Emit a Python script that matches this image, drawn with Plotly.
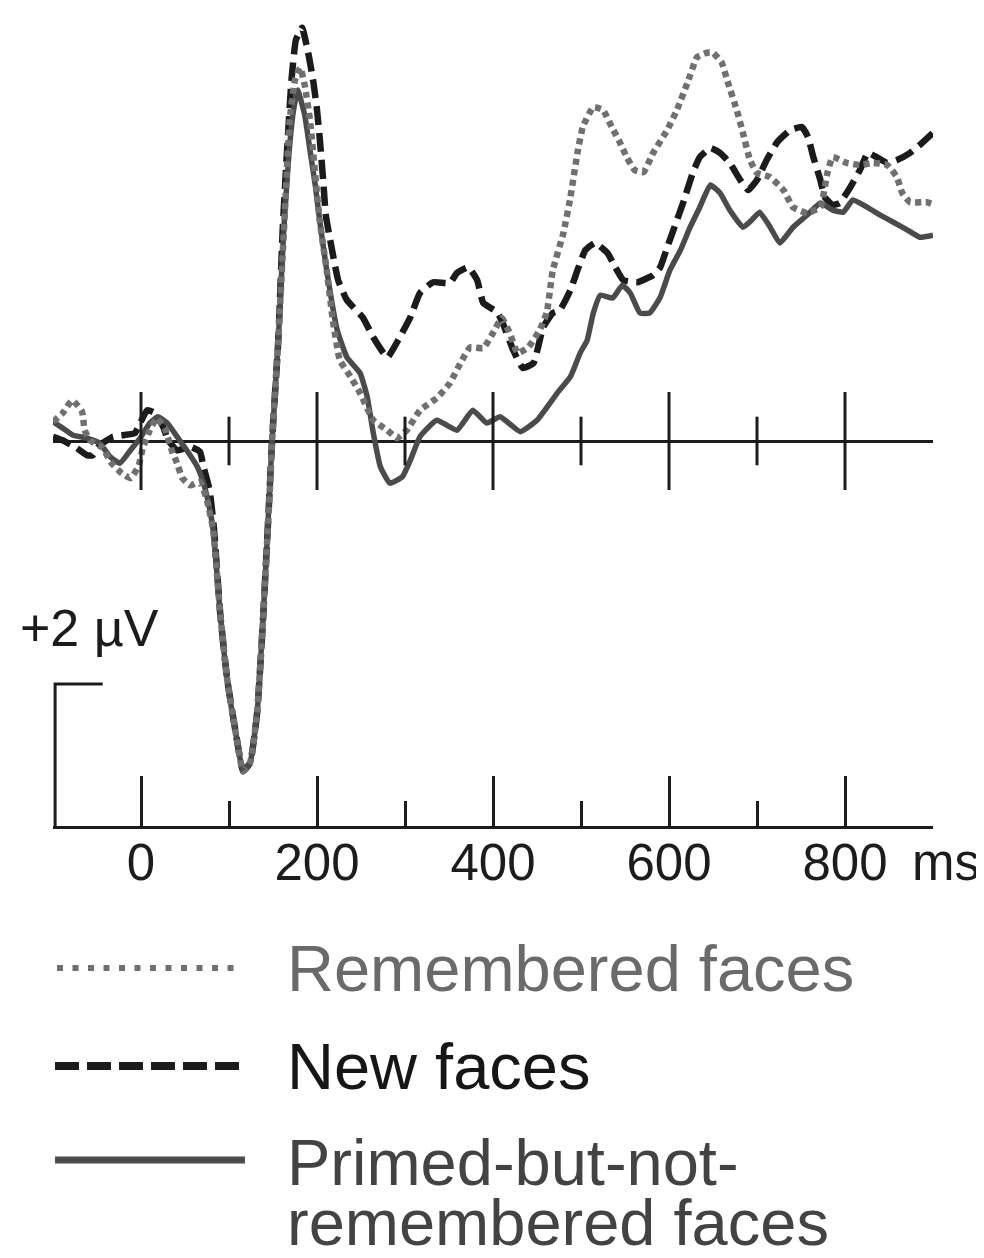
import plotly.graph_objects as go

# ---------------- data (time in ms, amplitude in microvolts) ----------------
t_rem = [-100, -89, -78, -67, -64, -58, -43, -35, -22, -12, -3, 2, 10, 18, 27, 35, 41, 47, 56, 67,
         75, 82, 90, 98, 109, 116, 124, 132, 138, 143, 147, 149, 156, 163, 169, 175, 181, 186, 192, 198,
         203, 211, 218, 226, 238, 249, 264, 280, 291, 302, 317, 336, 351, 363, 374, 389, 400, 410, 419, 428,
         440, 453, 461, 468, 480, 488, 496, 502, 514, 525, 535, 544, 552, 561, 571, 582, 598, 609, 621, 632,
         643, 650, 660, 667, 677, 684, 692, 700, 715, 730, 741, 757, 772, 780, 786, 802, 817, 832, 848, 859,
         865, 874, 893, 900]
v_rem = [0.27, 0.39, 0.57, 0.41, 0.15, 0.01, -0.10, -0.29, -0.45, -0.52, -0.36, -0.10, 0.15, 0.32, 0.18, -0.13, -0.31, -0.52, -0.62, -0.57,
         -0.83, -1.24, -2.41, -3.34, -4.18, -4.62, -4.50, -3.80, -2.64, -1.48, -0.55, 0.01, 1.41, 3.09, 4.49, 5.05, 5.22, 4.98, 4.49, 3.72,
         3.09, 2.39, 1.69, 1.13, 0.90, 0.67, 0.29, 0.15, 0.04, 0.15, 0.43, 0.60, 0.81, 1.09, 1.31, 1.30, 1.51, 1.72, 1.51, 1.23,
         1.31, 1.55, 1.79, 2.39, 2.91, 3.41, 4.03, 4.39, 4.67, 4.63, 4.39, 4.18, 3.97, 3.79, 3.76, 4.03, 4.35, 4.63, 5.01, 5.37,
         5.43, 5.43, 5.29, 5.01, 4.63, 4.31, 3.93, 3.75, 3.69, 3.51, 3.27, 3.19, 3.27, 3.75, 3.97, 3.89, 3.86, 3.89, 3.86, 3.69,
         3.47, 3.34, 3.34, 3.31]

t_new = [-100, -89, -73, -61, -55, -47, -32, -21, -7, -1, 7, 16, 25, 31, 41, 56, 67, 71, 78, 83,
         90, 98, 109, 116, 124, 132, 138, 143, 149, 156, 161, 166, 171, 176, 183, 190, 196, 200, 203, 207,
         210, 215, 224, 234, 252, 264, 280, 294, 306, 317, 332, 351, 359, 372, 382, 389, 405, 411, 423, 434,
         446, 457, 468, 476, 488, 496, 505, 516, 530, 539, 548, 564, 582, 590, 598, 605, 616, 627, 635, 647,
         658, 669, 681, 690, 700, 711, 723, 738, 751, 758, 764, 772, 777, 786, 794, 806, 817, 826, 836, 848,
         859, 874, 885, 900]
v_new = [0.06, 0.01, -0.10, -0.20, -0.20, -0.06, 0.06, 0.08, 0.11, 0.25, 0.43, 0.39, 0.20, 0.01, -0.13, -0.08, -0.15, -0.36, -0.69, -1.24,
         -2.41, -3.34, -4.18, -4.62, -4.50, -3.80, -2.64, -1.48, 0.01, 1.41, 2.95, 4.07, 5.05, 5.61, 5.78, 5.43, 5.01, 4.63, 4.25, 3.65,
         3.16, 2.81, 2.25, 1.97, 1.73, 1.45, 1.17, 1.45, 1.73, 2.07, 2.22, 2.21, 2.35, 2.43, 2.25, 1.93, 1.80, 1.65, 1.27, 1.02,
         1.09, 1.59, 1.79, 1.83, 2.11, 2.39, 2.67, 2.77, 2.63, 2.43, 2.25, 2.22, 2.32, 2.43, 2.71, 2.95, 3.33, 3.75, 3.97, 4.10,
         4.03, 3.89, 3.65, 3.51, 3.65, 3.93, 4.18, 4.35, 4.39, 4.25, 3.97, 3.65, 3.41, 3.30, 3.33, 3.55, 3.79, 4.03, 3.97, 3.89,
         3.93, 4.03, 4.14, 4.31]

t_pri = [-100, -89, -77, -61, -47, -35, -24, -12, -1, 10, 19, 30, 41, 52, 64, 71, 76, 82, 90, 98,
         109, 116, 124, 132, 138, 143, 149, 156, 162, 168, 173, 178, 186, 192, 198, 203, 211, 223, 234, 249,
         257, 264, 272, 283, 297, 306, 317, 336, 359, 377, 393, 408, 431, 450, 473, 488, 499, 507, 514, 522,
         536, 547, 556, 567, 578, 590, 601, 613, 624, 635, 647, 658, 669, 684, 694, 703, 715, 726, 741, 757,
         772, 786, 798, 809, 825, 840, 855, 871, 885, 900]
v_pri = [0.27, 0.18, 0.08, 0.04, -0.03, -0.22, -0.31, -0.13, 0.04, 0.25, 0.34, 0.25, 0.06, -0.13, -0.36, -0.59, -0.83, -1.24, -2.41, -3.34,
         -4.18, -4.62, -4.50, -3.80, -2.64, -1.48, 0.01, 1.41, 2.9, 4.0, 4.6, 4.91, 4.56, 4.07, 3.58, 3.09, 2.39, 1.55, 1.17, 0.95,
         0.62, 0.11, -0.36, -0.59, -0.50, -0.27, 0.06, 0.29, 0.15, 0.43, 0.25, 0.34, 0.13, 0.29, 0.67, 0.90, 1.23, 1.41, 1.79, 2.04,
         2.00, 2.18, 2.07, 1.79, 1.79, 2.01, 2.39, 2.67, 2.99, 3.27, 3.58, 3.47, 3.23, 2.99, 3.09, 3.20, 2.99, 2.77, 2.99, 3.16,
         3.33, 3.23, 3.20, 3.37, 3.27, 3.16, 3.06, 2.95, 2.85, 2.88]

major_ticks = [0, 200, 400, 600, 800]
minor_ticks = [100, 300, 500, 700]
tick_labels = ["0", "200", "400", "600", "800"]
series_names = ["Remembered faces", "New faces", "Primed-but-not-", "remembered faces"]
scale_label = "+2 \u00b5V"
unit_label = "ms"

# ---------------- styling / page geometry ----------------
PAGE_W, PAGE_H = 984, 1258
OFF = 8                      # default body margin of the html page
W, H = PAGE_W - OFF, PAGE_H - OFF
FONT = "Liberation Sans, Arial, Helvetica, sans-serif"
C_REM = "#707070"
C_NEW = "#1b1b1b"
C_PRI = "#4b4b4b"
C_AX = "#1c1c1c"


def fx(p):   # page pixel x -> paper fraction
    return (p - OFF) / W


def fy(p):   # page pixel y -> paper fraction
    return 1 - (p - OFF) / H


X0_PX, X1_PX = 53, 933           # x domain in page pixels (-100 .. 900 ms)
ZERO_PX, PX_PER_UV = 441, 71.5   # zero line row (page px) and scale
AXIS_PX = 827                    # bottom time axis row (page px)
y_top = (ZERO_PX - OFF) / PX_PER_UV
y_bot = (ZERO_PX - OFF - H) / PX_PER_UV
axis_v = (ZERO_PX - AXIS_PX) / PX_PER_UV

fig = go.Figure()
fig.add_trace(go.Scatter(x=t_new, y=v_new, mode="lines", name=series_names[1],
                         line=dict(color=C_NEW, width=6.5, dash="19px,8px", shape="spline", smoothing=0.4)))
fig.add_trace(go.Scatter(x=t_pri, y=v_pri, mode="lines", name=series_names[2] + series_names[3],
                         line=dict(color=C_PRI, width=5.5, shape="spline", smoothing=0.4)))
fig.add_trace(go.Scatter(x=t_rem, y=v_rem, mode="lines", name=series_names[0],
                         line=dict(color=C_REM, width=6.5, dash="6px,4.5px", shape="spline", smoothing=0.4)))

shapes = []
for t in major_ticks:
    shapes.append(dict(type="line", xref="x", yref="y", x0=t, x1=t, y0=-0.685, y1=0.685,
                       line=dict(color=C_AX, width=3)))
for t in minor_ticks:
    shapes.append(dict(type="line", xref="x", yref="y", x0=t, x1=t, y0=-0.34, y1=0.34,
                       line=dict(color=C_AX, width=3)))
# calibration bar (2 µV)
shapes.append(dict(type="path", xref="x", yref="y",
                   path=f"M -97.6,{axis_v} L -97.6,{axis_v + 2} L -43.5,{axis_v + 2}",
                   line=dict(color=C_AX, width=3)))

# legend samples
shapes.append(dict(type="line", xref="paper", yref="paper", x0=fx(57), x1=fx(240), y0=fy(968), y1=fy(968),
                   line=dict(color=C_REM, width=6, dash="6px,9.5px")))
shapes.append(dict(type="line", xref="paper", yref="paper", x0=fx(55), x1=fx(240), y0=fy(1066), y1=fy(1066),
                   line=dict(color=C_NEW, width=8, dash="24px,8px")))
shapes.append(dict(type="line", xref="paper", yref="paper", x0=fx(55), x1=fx(245), y0=fy(1160), y1=fy(1160),
                   line=dict(color=C_PRI, width=7)))

annotations = [
    dict(text=scale_label, x=-59, y=-2.62, xref="x", yref="y", showarrow=False,
         font=dict(family=FONT, size=52, color=C_AX), xanchor="center", yanchor="middle"),
    dict(text=unit_label, x=(910 - 141) / 0.88, y=fy(862), xref="x", yref="paper", showarrow=False,
         font=dict(family=FONT, size=51, color=C_AX), xanchor="left", yanchor="middle"),
    dict(text=series_names[0], x=fx(285), y=fy(968), xref="paper", yref="paper", showarrow=False,
         font=dict(family=FONT, size=65, color="#6a6a6a"), xanchor="left", yanchor="middle"),
    dict(text=series_names[1], x=fx(285), y=fy(1066), xref="paper", yref="paper", showarrow=False,
         font=dict(family=FONT, size=65, color="#161616"), xanchor="left", yanchor="middle"),
    dict(text=series_names[2], x=fx(285), y=fy(1162), xref="paper", yref="paper", showarrow=False,
         font=dict(family=FONT, size=65, color="#434343"), xanchor="left", yanchor="middle"),
    dict(text=series_names[3], x=fx(285), y=fy(1222), xref="paper", yref="paper", showarrow=False,
         font=dict(family=FONT, size=65, color="#434343"), xanchor="left", yanchor="middle"),
]

fig.update_layout(
    width=W, height=H,
    margin=dict(l=0, r=0, t=0, b=0),
    paper_bgcolor="white", plot_bgcolor="white",
    showlegend=False,
    shapes=shapes, annotations=annotations,
    xaxis=dict(domain=[fx(X0_PX), fx(X1_PX)], range=[-100, 900],
               anchor="free", position=fy(AXIS_PX),
               showline=True, linewidth=3, linecolor=C_AX,
               showgrid=False, zeroline=False,
               ticks="inside", ticklen=50, tickwidth=3, tickcolor=C_AX,
               tickmode="array", tickvals=major_ticks, ticktext=tick_labels,
               ticklabelstandoff=-10,
               tickfont=dict(family=FONT, size=51, color=C_AX),
               minor=dict(tickmode="array", tickvals=minor_ticks, ticks="inside",
                          ticklen=25, tickwidth=3, tickcolor=C_AX, showgrid=False)),
    yaxis=dict(domain=[0, 1], range=[y_bot, y_top], showgrid=False, showticklabels=False,
               ticks="", showline=False, zeroline=True, zerolinecolor=C_AX, zerolinewidth=3),
)

fig.write_html("out.html")
